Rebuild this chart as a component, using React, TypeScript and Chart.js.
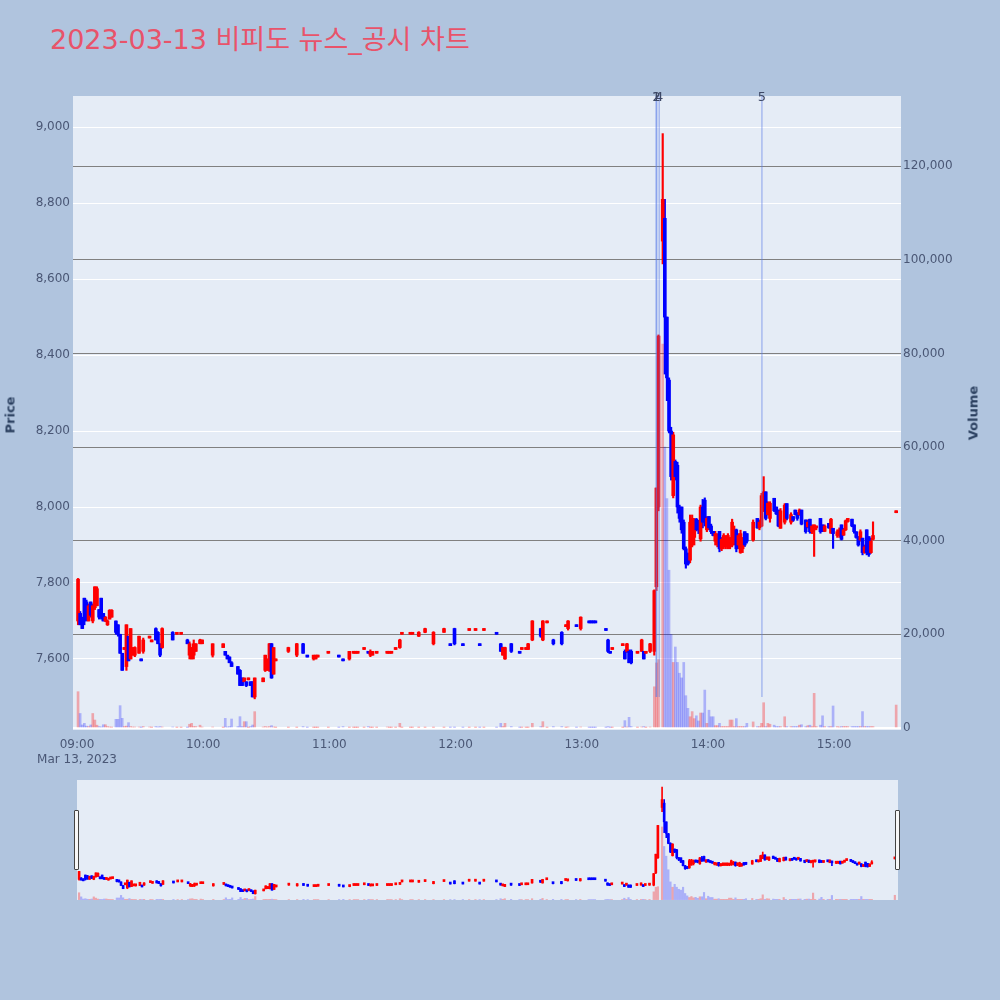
import React, { useEffect, useRef } from "react";
import { Chart, registerables } from "chart.js";

Chart.register(...registerables);

// ---------- data (1-minute candles, 2023-03-13) ----------
const times = [
  "09:00","09:01","09:02","09:03","09:04","09:05","09:06","09:07","09:08","09:09",
  "09:10","09:11","09:12","09:13","09:14","09:15","09:16","09:18","09:19","09:20",
  "09:21","09:22","09:23","09:24","09:25","09:26","09:27","09:29","09:30","09:31",
  "09:34","09:35","09:37","09:38","09:39","09:40","09:45","09:47","09:49","09:52",
  "09:53","09:54","09:55","09:56","09:58","09:59","10:04","10:09","10:10","10:11",
  "10:12","10:13","10:16","10:17","10:18","10:19","10:20","10:21","10:22","10:23",
  "10:24","10:28","10:29","10:30","10:31","10:32","10:33","10:34","10:40","10:44",
  "10:47","10:49","10:52","10:53","10:54","10:59","11:04","11:06","11:09","11:11",
  "11:12","11:13","11:16","11:18","11:19","11:20","11:22","11:27","11:28","11:29",
  "11:31","11:33","11:34","11:38","11:39","11:42","11:45","11:49","11:54","11:57",
  "11:59","12:03","12:06","12:09","12:11","12:13","12:19","12:21","12:22","12:23",
  "12:26","12:30","12:31","12:33","12:34","12:36","12:40","12:41","12:43","12:46",
  "12:50","12:52","12:53","12:57","12:59","13:03","13:04","13:05","13:06","13:11",
  "13:12","13:13","13:14","13:19","13:20","13:21","13:22","13:23","13:26","13:28",
  "13:29","13:30","13:32","13:34","13:35","13:36","13:38","13:39","13:40","13:41",
  "13:42","13:43","13:44","13:45","13:46","13:47","13:48","13:49","13:50","13:51",
  "13:52","13:53","13:54","13:55","13:56","13:57","13:58","13:59","14:00","14:01",
  "14:02","14:03","14:04","14:05","14:06","14:07","14:08","14:09","14:10","14:11",
  "14:12","14:13","14:14","14:15","14:16","14:17","14:18","14:21","14:23","14:24",
  "14:25","14:26","14:27","14:28","14:29","14:31","14:32","14:33","14:34","14:36",
  "14:37","14:39","14:40","14:41","14:42","14:43","14:44","14:46","14:47","14:48",
  "14:49","14:50","14:51","14:53","14:54","14:55","14:57","14:58","14:59","15:01",
  "15:02","15:03","15:04","15:05","15:06","15:08","15:09","15:10","15:11","15:12",
  "15:13","15:14","15:15","15:16","15:17","15:18","15:29",
];

const opens = [
  7700,7720,7705,7760,7750,7700,7750,7700,7735,7740,
  7730,7760,7720,7700,7690,7705,7710,7700,7690,7665,
  7615,7625,7580,7660,7600,7610,7610,7615,7600,7620,
  7655,7645,7680,7670,7640,7630,7670,7665,7665,7650,
  7610,7600,7610,7620,7640,7640,7610,7630,7620,7610,
  7605,7590,7580,7570,7550,7540,7540,7545,7540,7540,
  7500,7540,7570,7570,7570,7640,7560,7595,7620,7610,
  7640,7610,7600,7600,7605,7615,7610,7600,7600,7615,
  7615,7615,7625,7620,7610,7610,7615,7615,7615,7615,
  7625,7630,7665,7665,7665,7660,7670,7640,7670,7640,
  7680,7640,7675,7675,7640,7675,7670,7640,7610,7600,
  7640,7620,7625,7625,7625,7650,7680,7650,7695,7650,
  7670,7685,7680,7690,7680,7700,7700,7700,7700,7680,
  7650,7620,7625,7635,7620,7620,7620,7620,7615,7620,
  7620,7615,7620,7620,7790,8000,8700,8760,8500,8334,
  8200,8030,8120,8110,8000,8000,7960,7890,7870,7860,
  7900,7920,7968,7960,7916,8000,8018,7940,7975,7950,
  7936,7910,7900,7936,7890,7895,7900,7895,7900,7900,
  7910,7940,7900,7880,7890,7935,7930,7913,7970,7945,
  7950,7990,8040,7980,7970,8023,8000,7992,7944,7960,
  8009,7960,7975,7992,7985,7980,7992,7966,7948,7968,
  7935,7940,7945,7970,7953,7936,7957,7931,7944,7925,
  7925,7953,7926,7940,7962,7968,7953,7935,7922,7913,
  7918,7880,7940,7922,7880,7915,7985,
];

const highs = [
  7812,7725,7710,7760,7755,7745,7750,7745,7790,7790,
  7730,7760,7720,7712,7703,7730,7730,7700,7690,7665,
  7615,7630,7690,7660,7680,7630,7632,7660,7600,7655,
  7660,7650,7682,7672,7640,7682,7672,7670,7670,7652,
  7645,7630,7650,7640,7652,7650,7640,7640,7620,7610,
  7606,7593,7580,7572,7550,7550,7540,7550,7540,7540,
  7550,7550,7610,7600,7641,7641,7630,7600,7631,7641,
  7641,7610,7610,7610,7610,7620,7610,7600,7620,7620,
  7620,7620,7630,7620,7624,7620,7620,7620,7620,7620,
  7630,7652,7670,7670,7670,7672,7681,7672,7681,7640,
  7681,7640,7680,7680,7640,7680,7670,7641,7631,7631,
  7641,7620,7630,7630,7641,7701,7681,7701,7700,7652,
  7672,7690,7701,7690,7711,7700,7700,7700,7700,7680,
  7652,7620,7630,7640,7624,7641,7624,7624,7620,7652,
  7620,7620,7641,7782,8050,8453,8983,8810,8500,8340,
  8210,8197,8124,8118,8005,8000,7966,7895,7879,7979,
  7979,7970,7970,7965,8005,8020,8024,7975,7975,7955,
  7936,7936,7930,7936,7920,7930,7925,7930,7920,7968,
  7950,7942,7930,7939,7920,7935,7930,7966,7970,7966,
  8036,8080,8040,8014,8014,8023,8000,7992,7996,8009,
  8009,7985,7975,7992,7985,7995,7992,7966,7966,7968,
  7953,7953,7950,7970,7953,7953,7957,7970,7944,7940,
  7945,7953,7944,7966,7970,7968,7953,7935,7922,7940,
  7918,7900,7940,7922,7918,7961,7990,
];

const lows = [
  7690,7690,7680,7690,7700,7700,7710,7695,7730,7740,
  7705,7705,7700,7698,7688,7705,7710,7665,7660,7615,
  7570,7625,7570,7595,7600,7610,7606,7615,7595,7615,
  7655,7645,7650,7640,7606,7628,7650,7665,7665,7640,
  7600,7600,7600,7620,7640,7640,7605,7630,7610,7600,
  7590,7580,7560,7530,7530,7540,7527,7545,7530,7500,
  7495,7540,7567,7570,7567,7549,7560,7595,7617,7606,
  7615,7605,7597,7600,7605,7615,7605,7595,7597,7615,
  7615,7615,7625,7615,7606,7610,7615,7615,7615,7615,
  7625,7628,7665,7665,7665,7659,7669,7637,7670,7635,
  7637,7635,7675,7675,7635,7675,7665,7620,7610,7599,
  7617,7615,7625,7625,7625,7648,7657,7648,7695,7637,
  7637,7685,7676,7685,7676,7695,7695,7695,7695,7675,
  7617,7615,7625,7635,7600,7617,7590,7587,7615,7620,
  7600,7615,7617,7610,7780,7990,8640,8350,8280,8195,
  8071,8024,8071,7984,7960,7931,7887,7839,7847,7853,
  7895,7900,7937,7930,7910,7945,7950,7935,7940,7930,
  7924,7900,7895,7882,7885,7890,7890,7890,7890,7895,
  7900,7882,7890,7878,7880,7896,7905,7910,7944,7940,
  7948,7988,7966,7979,7960,7988,7980,7948,7944,7955,
  7966,7955,7962,7979,7965,7978,7953,7931,7945,7931,
  7930,7870,7940,7931,7935,7935,7944,7931,7891,7920,
  7920,7913,7925,7938,7960,7948,7931,7918,7897,7910,
  7874,7878,7874,7870,7878,7913,7985,
];

const closes = [
  7810,7690,7680,7700,7705,7740,7715,7740,7790,7785,
  7710,7710,7700,7710,7700,7728,7728,7670,7665,7615,
  7570,7630,7690,7595,7680,7630,7630,7660,7595,7650,
  7660,7650,7650,7640,7610,7680,7650,7670,7670,7640,
  7640,7630,7640,7640,7650,7650,7640,7640,7610,7600,
  7590,7580,7560,7530,7530,7550,7530,7550,7530,7500,
  7550,7550,7610,7600,7640,7550,7630,7600,7630,7640,
  7615,7605,7610,7610,7610,7620,7605,7595,7620,7620,
  7620,7620,7630,7615,7620,7620,7620,7620,7620,7620,
  7630,7650,7670,7670,7670,7670,7680,7670,7680,7635,
  7640,7635,7680,7680,7635,7680,7665,7620,7630,7630,
  7620,7615,7630,7630,7640,7700,7660,7700,7700,7640,
  7640,7690,7700,7685,7710,7695,7695,7695,7695,7675,
  7620,7615,7630,7640,7600,7640,7590,7590,7620,7650,
  7600,7620,7640,7780,8050,8450,8810,8500,8340,8200,
  8080,8190,8080,8000,7970,7940,7890,7850,7850,7960,
  7970,7960,7940,7940,8000,7960,7960,7970,7945,7935,
  7925,7930,7920,7890,7915,7925,7920,7925,7915,7960,
  7940,7890,7925,7930,7910,7900,7910,7960,7945,7960,
  8030,8040,7970,8010,8010,7990,7982,7950,7990,8005,
  7970,7980,7965,7980,7970,7992,7955,7935,7960,7935,
  7950,7953,7948,7935,7936,7950,7945,7968,7930,7935,
  7940,7915,7940,7964,7970,7950,7935,7920,7900,7935,
  7880,7895,7880,7875,7910,7925,7990,
];

const volumes = [
  7750,3100,650,1000,400,300,650,3100,1700,600,
  300,200,700,700,300,200,150,1850,1850,4770,
  2060,300,400,1140,300,200,200,200,100,300,
  200,100,300,200,300,200,200,100,100,100,
  800,1000,300,300,600,200,200,100,2060,200,
  300,1920,300,2420,300,1350,1350,100,300,640,
  3490,200,300,200,300,500,200,100,100,100,
  300,100,100,100,100,100,100,300,100,100,
  100,100,100,300,100,100,100,200,100,100,
  100,1000,100,100,100,100,100,100,100,100,
  100,100,100,100,100,100,100,1000,300,1000,
  300,100,100,100,100,1000,300,1350,100,300,
  300,100,200,100,200,100,100,100,100,100,
  285,100,100,100,1570,200,2280,300,100,200,
  300,100,200,8800,13900,14600,82000,60000,49000,33700,
  20000,14000,17300,14000,11700,10700,14000,6900,4200,2400,
  3500,2000,2600,1500,3200,3200,8100,1000,3800,2400,
  2400,500,500,1000,300,300,300,300,1700,1700,
  300,2000,300,300,300,300,1000,1300,300,300,
  1000,5400,300,1000,800,600,300,300,300,2400,
  300,300,300,300,300,600,700,300,500,600,
  300,7400,300,600,2600,300,300,300,4700,300,
  200,300,300,300,300,300,300,300,300,300,
  3500,300,300,300,300,300,4900,
];

// news markers
const newsTimes = ["13:35:20", "13:35:40", "13:36:50", "14:25:40"];
const newsLabels = ["1", "2", "4", "5"];
const newsLineBottomPrice = 7500;

// axis ranges / ticks
const priceRange = [7413, 9082];
const volumeRange = [-430, 135000];
const timeRange = [-1.9, 391.8];
const sliderTimeRange = [-0.5, 391];
const priceTicks = [7600, 7800, 8000, 8200, 8400, 8600, 8800, 9000];
const volumeTicks = [0, 20000, 40000, 60000, 80000, 100000, 120000];
const timeTicks = [0, 60, 120, 180, 240, 300, 360];
const dateLabel = "Mar 13, 2023";

const TITLE = "2023-03-13 비피도 뉴스_공시 차트";

// ---------- helpers ----------
const toMin = (t: string) => {
  const p = t.split(":").map(Number);
  return (p[0] - 9) * 60 + p[1] + (p[2] || 0) / 60;
};
const UP = "#ff0000";
const DOWN = "#0000ff";
const UP_VOL = "rgba(255,0,0,0.3)";
const DOWN_VOL = "rgba(0,0,255,0.25)";
const PLOT_BG = "#e5ecf6";
const TICK_FONT = { family: "'DejaVu Sans', Verdana, sans-serif", size: 12 };
const TICK_COLOR = "#4a5775";

const xs = times.map((t) => toMin(t) + 0.5);
const candleColors = closes.map((c, i) => (c >= opens[i] ? UP : DOWN));
const volColors = closes.map((c, i) => (c >= opens[i] ? UP_VOL : DOWN_VOL));

const fmtTime = (v: number) => {
  const h = 9 + Math.floor(v / 60);
  const m = Math.round(v % 60);
  return String(h).padStart(2, "0") + ":" + String(m).padStart(2, "0");
};

const bgPlugin = {
  id: "plotBg",
  beforeDraw(chart: any) {
    const { ctx, chartArea } = chart;
    ctx.save();
    ctx.fillStyle = PLOT_BG;
    ctx.fillRect(chartArea.left, chartArea.top, chartArea.right - chartArea.left, chartArea.bottom - chartArea.top);
    ctx.restore();
  },
};

const newsPlugin = {
  id: "news",
  afterDatasetsDraw(chart: any) {
    const { ctx, chartArea, scales } = chart;
    const yb = scales.y.getPixelForValue(newsLineBottomPrice);
    ctx.save();
    newsTimes.forEach((t) => {
      const x = scales.x.getPixelForValue(toMin(t));
      ctx.strokeStyle = "rgba(90,125,230,0.45)";
      ctx.lineWidth = 1.5;
      ctx.beginPath();
      ctx.moveTo(x, chartArea.top);
      ctx.lineTo(x, yb);
      ctx.stroke();
    });
    newsTimes.forEach((t, i) => {
      const x = scales.x.getPixelForValue(toMin(t));
      ctx.fillStyle = "#3d4866";
      ctx.font = "13px 'DejaVu Sans', sans-serif";
      ctx.textAlign = "center";
      ctx.textBaseline = "alphabetic";
      ctx.fillText(newsLabels[i], x, chartArea.top + 5);
    });
    ctx.restore();
  },
};

function makeDatasets(volW: number, wickW: number, bodyW: number) {
  return [
    {
      label: "Volume",
      data: xs.map((x, i) => ({ x, y: volumes[i] })),
      yAxisID: "y2",
      backgroundColor: volColors,
      barThickness: volW,
      grouped: false,
      order: 3,
    },
    {
      label: "Wick",
      data: xs.map((x, i) => ({ x, y: [lows[i], highs[i]] })),
      yAxisID: "y",
      backgroundColor: candleColors,
      barThickness: wickW,
      grouped: false,
      order: 2,
    },
    {
      label: "Body",
      data: xs.map((x, i) => ({ x, y: [opens[i], closes[i]] })),
      yAxisID: "y",
      backgroundColor: candleColors,
      barThickness: bodyW,
      minBarLength: 2,
      grouped: false,
      order: 1,
    },
  ];
}

const setTicks = (vals: number[]) => (s: any) => {
  s.ticks = vals.map((v) => ({ value: v }));
};

export default function App() {
  const mainRef = useRef<HTMLCanvasElement>(null);
  const sliderRef = useRef<HTMLCanvasElement>(null);

  useEffect(() => {
    const main = new Chart(mainRef.current as HTMLCanvasElement, {
      type: "bar",
      data: { datasets: makeDatasets(2, 1.5, 3) as any },
      options: {
        responsive: false,
        animation: false,
        events: [],
        layout: { padding: { top: 96, left: 0, right: 0, bottom: 0 } },
        plugins: { legend: { display: false }, tooltip: { enabled: false } },
        scales: {
          x: {
            type: "linear",
            min: timeRange[0],
            max: timeRange[1],
            offset: false,
            grid: { display: false, drawTicks: false },
            border: { display: false },
            afterBuildTicks: setTicks(timeTicks),
            ticks: {
              autoSkip: false,
              maxRotation: 0,
              padding: 8,
              color: TICK_COLOR,
              font: TICK_FONT,
              callback: (v: any) => (Number(v) === 0 ? [fmtTime(0), dateLabel] : fmtTime(Number(v))),
            },
            afterFit: (s: any) => {
              s.height = 40;
            },
          },
          y: {
            type: "linear",
            position: "left",
            min: priceRange[0],
            max: priceRange[1],
            grid: { color: "#ffffff", lineWidth: 1, drawTicks: false },
            border: { display: false },
            afterBuildTicks: setTicks(priceTicks),
            ticks: {
              padding: 3,
              color: TICK_COLOR,
              font: TICK_FONT,
              callback: (v: any) => Number(v).toLocaleString("en-US"),
            },
            afterFit: (s: any) => {
              s.width = 73;
            },
          },
          y2: {
            type: "linear",
            position: "right",
            min: volumeRange[0],
            max: volumeRange[1],
            grid: {
              color: (c: any) => (c.tick && c.tick.value === 0 ? "#ffffff" : "#808080"),
              lineWidth: (c: any) => (c.tick && c.tick.value === 0 ? 2 : 1),
              drawTicks: false,
            },
            border: { display: false },
            afterBuildTicks: setTicks(volumeTicks),
            ticks: {
              padding: 2,
              color: TICK_COLOR,
              font: TICK_FONT,
              callback: (v: any) => Number(v).toLocaleString("en-US"),
            },
            afterFit: (s: any) => {
              s.width = 99;
            },
          },
        },
      } as any,
      plugins: [bgPlugin, newsPlugin],
    });

    const slider = new Chart(sliderRef.current as HTMLCanvasElement, {
      type: "bar",
      data: { datasets: makeDatasets(1.5, 1, 2) as any },
      options: {
        responsive: false,
        animation: false,
        events: [],
        layout: { padding: 0 },
        plugins: { legend: { display: false }, tooltip: { enabled: false } },
        scales: {
          x: { type: "linear", display: false, min: sliderTimeRange[0], max: sliderTimeRange[1], offset: false },
          y: { type: "linear", display: false, min: priceRange[0], max: priceRange[1] },
          y2: { type: "linear", display: false, min: volumeRange[0], max: volumeRange[1] },
        },
      } as any,
      plugins: [bgPlugin],
    });

    return () => {
      main.destroy();
      slider.destroy();
    };
  }, []);

  const axisTitle: React.CSSProperties = {
    position: "absolute",
    transform: "translate(-50%, -50%) rotate(-90deg)",
    font: "bold 13px 'DejaVu Sans', sans-serif",
    color: "#2a3f5f",
    whiteSpace: "nowrap",
  };
  const handle: React.CSSProperties = {
    position: "absolute",
    top: 810,
    width: 3,
    height: 58,
    background: "#f8f8f8",
    border: "1px solid #444",
    borderRadius: 1,
  };

  return (
    <div
      style={{
        position: "absolute",
        left: 0,
        top: 0,
        width: 1000,
        height: 1000,
        background: "#b0c4de",
        overflow: "hidden",
      }}
    >
      <div
        style={{
          position: "absolute",
          left: 50,
          top: 22,
          font: "27px 'DejaVu Sans', 'Noto Sans CJK KR', sans-serif",
          lineHeight: "36px",
          color: "#e8536a",
          whiteSpace: "nowrap",
        }}
      >
        {TITLE}
      </div>
      <canvas ref={mainRef} width={1000} height={770} style={{ position: "absolute", left: 0, top: 0 }} />
      <div style={{ ...axisTitle, left: 10, top: 415 }}>Price</div>
      <div style={{ ...axisTitle, left: 973, top: 413 }}>Volume</div>
      <canvas ref={sliderRef} width={821} height={120} style={{ position: "absolute", left: 77, top: 780 }} />
      <div style={{ ...handle, left: 74 }} />
      <div style={{ ...handle, left: 895 }} />
    </div>
  );
}
